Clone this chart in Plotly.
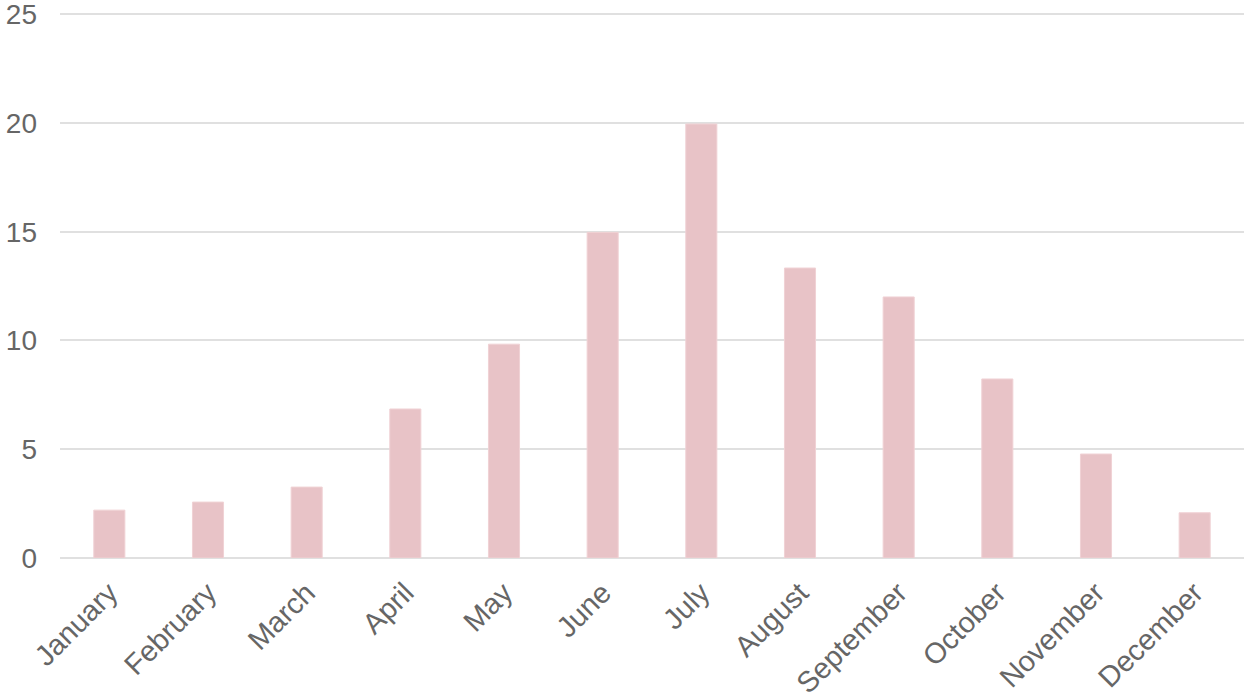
import plotly.graph_objects as go

months = ["January", "February", "March", "April", "May", "June",
          "July", "August", "September", "October", "November", "December"]
values = [2.2, 2.57, 3.26, 6.85, 9.83, 14.97, 19.95, 13.33, 12.0, 8.23, 4.78, 2.08]
y_ticks = [0, 5, 10, 15, 20, 25]

fig = go.Figure()
fig.add_trace(go.Bar(
    x=months, y=values,
    marker=dict(color="#e8c3c7", line=dict(color="#f0d2d5", width=1)),
    width=0.315,
))

font = dict(family="Liberation Sans, Arial, sans-serif", size=28, color="#666666")
xfont = dict(family="Liberation Sans, Arial, sans-serif", size=29, color="#666666")
fig.update_layout(
    width=1246, height=698,
    margin=dict(l=60, r=2, t=12, b=140, autoexpand=False),
    paper_bgcolor="white", plot_bgcolor="white",
    showlegend=False,
    font=font,
    xaxis=dict(
        tickangle=-45, showgrid=False, zeroline=False, showline=False,
        ticks="", tickfont=xfont, ticklabelstandoff=11, automargin=False,
        range=[-0.5, 11.5],
    ),
    yaxis=dict(
        range=[0, 25.1], tickvals=y_ticks, showgrid=True,
        gridcolor="#e0e0e0", gridwidth=2, zeroline=True,
        zerolinecolor="#e0e0e0", zerolinewidth=2, automargin=False,
        showline=False, ticks="", tickfont=font, ticklabelstandoff=22,
        ticklabeloverflow="allow",
    ),
)

fig.write_html(
    "out.html",
    config={"displayModeBar": False},
    post_script="document.body.style.margin='0';",
)
